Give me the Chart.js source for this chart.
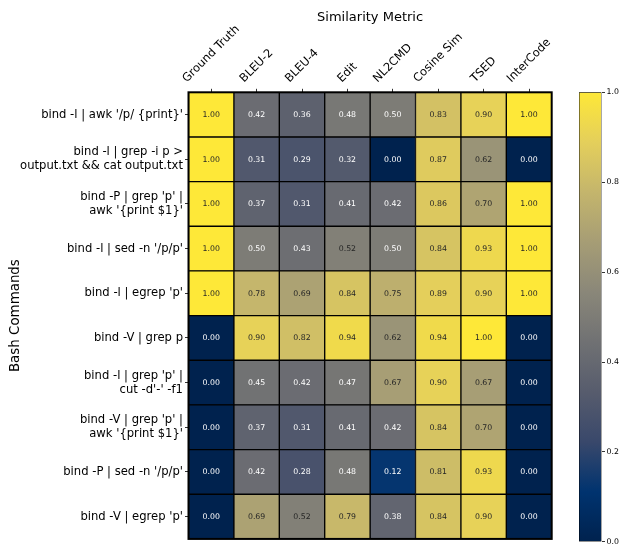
<!DOCTYPE html>
<html>
<head>
<meta charset="utf-8">
<script src="https://cdn.jsdelivr.net/npm/chart.js@4"></script>
<style>
    body { margin: 0; background: #fff; }
    #wrap { position: relative; width: 621px; height: 548px; }
    #heat-box { position: absolute; left: 0; top: 0; width: 621px; height: 548px; }
    #bar-box { position: absolute; left: 577px; top: 0; width: 44px; height: 548px; }
</style>
</head>
<body>
<div id="wrap">
    <div id="heat-box"><canvas id="heatmap"></canvas></div>
    <div id="bar-box"><canvas id="colorbar"></canvas></div>
</div>
<script>
// Metrics (columns) and commands (rows)
const metrics = ['Ground Truth', 'BLEU-2', 'BLEU-4', 'Edit', 'NL2CMD', 'Cosine Sim', 'TSED', 'InterCode'];
const commands = [
    "bind -l | awk '/p/ {print}'",
    ['bind -l | grep -i p >', 'output.txt && cat output.txt'],
    ["bind -P | grep 'p' |", "awk '{print $1}'"],
    "bind -l | sed -n '/p/p'",
    "bind -l | egrep 'p'",
    'bind -V | grep p',
    ["bind -l | grep 'p' |", "cut -d'-' -f1"],
    ["bind -V | grep 'p' |", "awk '{print $1}'"],
    "bind -P | sed -n '/p/p'",
    "bind -V | egrep 'p'"
];

// Scores per metric, one value per command (top to bottom)
const groundTruth = [1.00, 1.00, 1.00, 1.00, 1.00, 0.00, 0.00, 0.00, 0.00, 0.00];
const bleu2       = [0.42, 0.31, 0.37, 0.50, 0.78, 0.90, 0.45, 0.37, 0.42, 0.69];
const bleu4       = [0.36, 0.29, 0.31, 0.43, 0.69, 0.82, 0.42, 0.31, 0.28, 0.52];
const edit        = [0.48, 0.32, 0.41, 0.52, 0.84, 0.94, 0.47, 0.41, 0.48, 0.79];
const nl2cmd      = [0.50, 0.00, 0.42, 0.50, 0.75, 0.62, 0.67, 0.42, 0.12, 0.38];
const cosineSim   = [0.83, 0.87, 0.86, 0.84, 0.89, 0.94, 0.90, 0.84, 0.81, 0.84];
const tsed        = [0.90, 0.62, 0.70, 0.93, 0.90, 1.00, 0.67, 0.70, 0.93, 0.90];
const interCode   = [1.00, 0.00, 1.00, 1.00, 1.00, 0.00, 0.00, 0.00, 0.00, 0.00];

const scores = [groundTruth, bleu2, bleu4, edit, nl2cmd, cosineSim, tsed, interCode];

// Colorbar ticks
const barTicks = [0, 0.2, 0.4, 0.6, 0.8, 1.0];

// cividis colormap, evenly spaced stops from 0 to 1
const cividis = ['#00224e', '#00336f', '#39486b', '#575c6d', '#707173',
                 '#8a8779', '#a69d75', '#c4b56c', '#e4cf5b', '#fee838'];

function hexToRgb(hex) {
    const n = parseInt(hex.slice(1), 16);
    return [(n >> 16) & 255, (n >> 8) & 255, n & 255];
}

function colorFor(v) {
    const pos = Math.min(Math.max(v, 0), 1) * (cividis.length - 1);
    const i = Math.min(Math.floor(pos), cividis.length - 2);
    const t = pos - i;
    const a = hexToRgb(cividis[i]);
    const b = hexToRgb(cividis[i + 1]);
    const c = a.map((x, k) => Math.round(x + (b[k] - x) * t));
    return `rgb(${c[0]}, ${c[1]}, ${c[2]})`;
}

Chart.defaults.font.family = '"DejaVu Sans", sans-serif';
Chart.defaults.color = '#000';

// writes the score in the middle of each cell
const cellLabels = {
    id: 'cellLabels',
    afterDatasetsDraw(chart) {
        const ctx = chart.ctx;
        ctx.save();
        ctx.font = '7.8px "DejaVu Sans"';
        ctx.textAlign = 'center';
        ctx.textBaseline = 'middle';
        chart.data.datasets.forEach((ds, di) => {
            chart.getDatasetMeta(di).data.forEach((el, ri) => {
                const v = ds.scores[ri];
                const p = el.getCenterPoint();
                ctx.fillStyle = v > 0.5 ? '#262626' : '#ffffff';
                ctx.fillText(v.toFixed(2), p.x, p.y + 0.5);
            });
        });
        // outer frame
        const a = chart.chartArea;
        ctx.strokeStyle = '#000';
        ctx.lineWidth = 2;
        ctx.strokeRect(a.left, a.top, a.right - a.left, a.bottom - a.top);
        ctx.restore();
    }
};

// metric names above the columns, rotated 45 degrees and centred on the tick
const columnLabels = {
    id: 'columnLabels',
    afterDraw(chart) {
        const ctx = chart.ctx;
        const xs = chart.scales.x;
        const base = chart.chartArea.top - 7;
        const fs = 11.5;
        ctx.save();
        ctx.font = fs + 'px "DejaVu Sans"';
        ctx.fillStyle = '#000';
        ctx.textAlign = 'center';
        ctx.textBaseline = 'middle';
        metrics.forEach((m, i) => {
            const w = ctx.measureText(m).width;
            const h = fs * 1.16;
            const boxH = (w + h) * Math.SQRT1_2;
            const x = xs.getPixelForValue(i + 0.5);
            ctx.save();
            ctx.translate(x, base - boxH / 2);
            ctx.rotate(-Math.PI / 4);
            ctx.fillText(m, 0, 0);
            ctx.restore();
        });
        ctx.restore();
    }
};

const datasets = metrics.map((m, i) => ({
    label: m,
    data: commands.map(() => [i, i + 1]),
    scores: scores[i],
    backgroundColor: scores[i].map(colorFor),
    borderColor: '#000',
    borderWidth: 1,
    borderSkipped: false,
    grouped: false,
    barPercentage: 1,
    categoryPercentage: 1
}));

new Chart(document.getElementById('heatmap'), {
    type: 'bar',
    data: { labels: commands, datasets: datasets },
    options: {
        indexAxis: 'y',
        responsive: true,
        maintainAspectRatio: false,
        animation: false,
        layout: { padding: { left: 0, right: 69.3, top: 0, bottom: 1.7 } },
        plugins: {
            legend: { display: false },
            tooltip: { enabled: false },
            title: {
                display: true,
                text: 'Similarity Metric',
                fullSize: false,
                font: { size: 13, weight: 'normal' },
                color: '#000',
                padding: { top: 9.5, bottom: 0 }
            }
        },
        scales: {
            x: {
                type: 'linear',
                position: 'top',
                min: 0,
                max: metrics.length,
                afterBuildTicks: (scale) => {
                    scale.ticks = metrics.map((_, i) => ({ value: i + 0.5 }));
                },
                afterFit: (scale) => { scale.height = 67.2; },
                ticks: { display: false },
                grid: { drawOnChartArea: false, drawTicks: true, tickLength: 3.5, color: '#000', lineWidth: 0.8 },
                border: { display: false }
            },
            y: {
                type: 'category',
                offset: true,
                afterFit: (scale) => { scale.width = 188.5; },
                ticks: {
                    padding: 2,
                    font: { size: 11.6, lineHeight: 1.22 },
                    color: '#000',
                    autoSkip: false
                },
                grid: { offset: false, drawOnChartArea: false, drawTicks: true, tickLength: 3.5, color: '#000', lineWidth: 0.8 },
                border: { display: false },
                title: {
                    display: true,
                    text: 'Bash Commands',
                    font: { size: 13.4 },
                    color: '#000',
                    padding: { top: 7, bottom: 0 }
                }
            }
        }
    },
    plugins: [cellLabels, columnLabels]
});

// colorbar: one bar from 0 to 1 filled with the colormap
new Chart(document.getElementById('colorbar'), {
    type: 'bar',
    data: {
        labels: [''],
        datasets: [{
            data: [[0, 1]],
            backgroundColor: (c) => {
                const area = c.chart.chartArea;
                if (!area) return null;
                const g = c.chart.ctx.createLinearGradient(0, area.bottom, 0, area.top);
                cividis.forEach((col, i) => g.addColorStop(i / (cividis.length - 1), col));
                return g;
            },
            borderColor: '#000',
            borderWidth: 0.8,
            borderSkipped: false,
            barPercentage: 1,
            categoryPercentage: 1
        }]
    },
    options: {
        responsive: true,
        maintainAspectRatio: false,
        animation: false,
        layout: { padding: { left: 2, right: 0, top: 92.3, bottom: 1.7 } },
        plugins: { legend: { display: false }, tooltip: { enabled: false } },
        scales: {
            x: { display: false },
            y: {
                position: 'right',
                min: 0,
                max: 1,
                afterBuildTicks: (scale) => {
                    scale.ticks = barTicks.map(v => ({ value: v }));
                },
                afterFit: (scale) => { scale.width = 19.5; },
                ticks: {
                    padding: 1.5,
                    font: { size: 7.8 },
                    color: '#000',
                    callback: (v) => Number(v).toFixed(1)
                },
                grid: { drawOnChartArea: false, drawTicks: true, tickLength: 3.5, color: '#000', lineWidth: 0.8 },
                border: { display: false }
            }
        }
    }
});
</script>
</body>
</html>
